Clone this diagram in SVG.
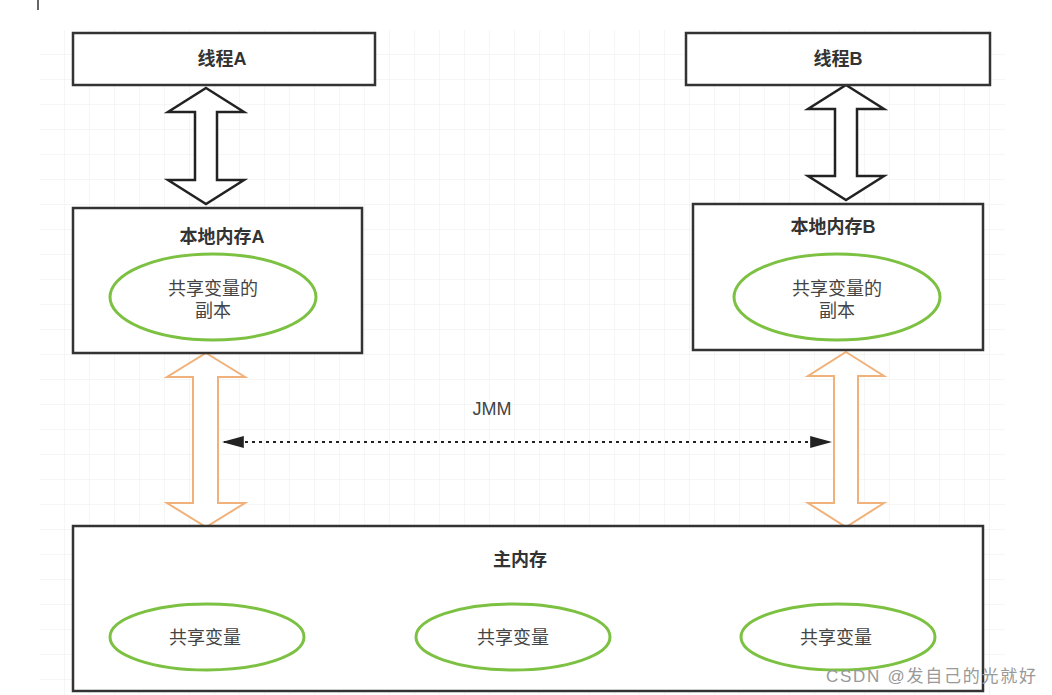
<svg xmlns="http://www.w3.org/2000/svg" width="1052" height="695" viewBox="0 0 1052 695">
<defs>
<pattern id="grid" width="25" height="25" patternUnits="userSpaceOnUse" x="40" y="30">
<path d="M25 0V25H0" fill="none" stroke="#ececec" stroke-width="1"/>
</pattern>
<marker id="ah" viewBox="0 0 10 10" refX="9" refY="5" markerWidth="22" markerHeight="12" orient="auto-start-reverse" markerUnits="userSpaceOnUse" preserveAspectRatio="none">
<path d="M0 0L10 5L0 10Z" fill="#222"/>
</marker>
<style>
.box{fill:#fff;stroke:#333;stroke-width:2.5}
.ell{fill:#fff;stroke:#7cc142;stroke-width:3}
.t{font-family:"Liberation Sans","Noto Sans CJK SC",sans-serif;fill:#333;text-anchor:middle}
.b{font-weight:bold;font-size:18px}
.n{font-size:18px;fill:#444}
.blk{fill:#fff;stroke:#222;stroke-width:2.5}
.org{fill:#fff;stroke:#f0b27a;stroke-width:2}
</style>
</defs>
<rect width="1052" height="695" fill="#fff"/>
<rect x="40" y="30" width="965" height="665" fill="url(#grid)"/>
<line x1="38" y1="0" x2="38" y2="10" stroke="#333" stroke-width="1.5"/>
<g id="connectors">
<path class="blk" d="M206 88L244 112H217V180H244L206 204L168 180H195V112H168Z"/>
<path class="blk" d="M846 85L884 109H857V176H884L846 200L808 176H835V109H808Z"/>
<path class="org" d="M206 353L245 377H218V503H245L206 527L167 503H193V377H167Z"/>
<path class="org" d="M846 352L884 376H858V503H884L846 527L808 503H834V376H808Z"/>
<line x1="224" y1="442" x2="830" y2="442" stroke="#222" stroke-width="2" stroke-dasharray="3,4" marker-start="url(#ah)" marker-end="url(#ah)"/>
<text class="t n" x="492" y="415">JMM</text>
</g>
<g id="threadA"><rect class="box" x="73" y="33" width="302" height="52"/><text class="t b" x="222" y="65">线程A</text></g>
<g id="threadB"><rect class="box" x="686" y="33" width="304" height="52"/><text class="t b" x="838" y="65">线程B</text></g>
<g id="localA"><rect class="box" x="73" y="208" width="289" height="145"/><text class="t b" x="222" y="243">本地内存A</text>
<ellipse class="ell" cx="213" cy="297" rx="103" ry="43"/><text class="t n" x="213" y="295">共享变量的</text><text class="t n" x="213" y="317">副本</text></g>
<g id="localB"><rect class="box" x="693" y="204" width="290" height="146"/><text class="t b" x="833" y="233">本地内存B</text>
<ellipse class="ell" cx="837" cy="297" rx="103" ry="43"/><text class="t n" x="837" y="295">共享变量的</text><text class="t n" x="837" y="317">副本</text></g>
<g id="mainMem"><rect class="box" x="73" y="526" width="910" height="165"/><text class="t b" x="520" y="566">主内存</text>
<ellipse class="ell" cx="207" cy="637" rx="97" ry="33"/><text class="t n" x="205" y="644">共享变量</text>
<ellipse class="ell" cx="513" cy="637" rx="97" ry="33"/><text class="t n" x="513" y="644">共享变量</text>
<ellipse class="ell" cx="838" cy="637" rx="97" ry="33"/><text class="t n" x="836" y="644">共享变量</text></g>
<text x="826" y="682" font-family="Liberation Sans,'Noto Sans CJK SC',sans-serif" font-size="17" fill="#999" textLength="210">CSDN @发自己的光就好</text>
</svg>
